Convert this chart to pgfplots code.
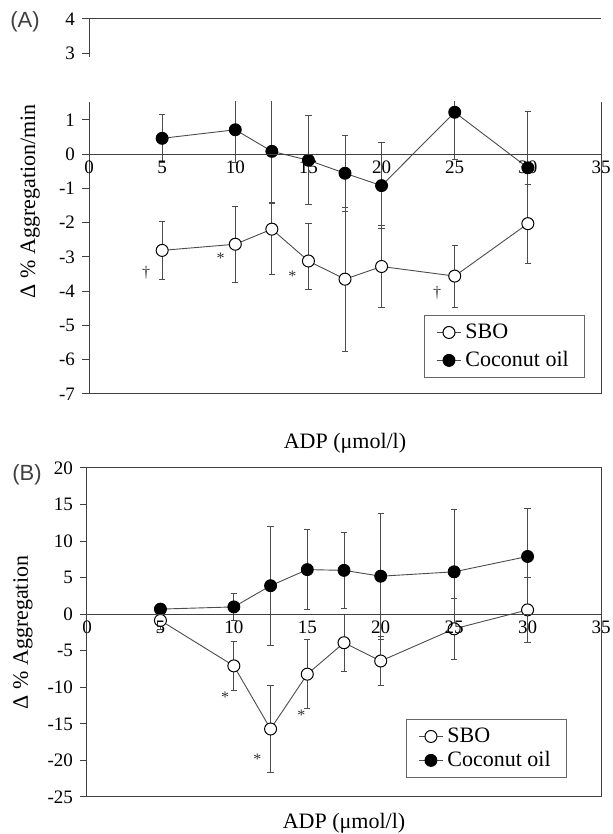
\documentclass[border=0pt]{standalone}
\usepackage{fontspec}
\setmainfont{Liberation Serif}
\newfontfamily\labelfont{Liberation Sans}
\usepackage{pgfplots}
\pgfplotsset{compat=1.18}

\tikzset{note/.style={font=\fontsize{8}{9}\selectfont, black!80}}
\pgfplotsset{
  panel/.style={
    scale only axis, anchor=south west,
    xmin=0, xmax=35,
    tick align=outside, ytick pos=left,
    axis line style={black!75, line width=0.5pt},
    tick style={black!75, line width=0.5pt},
    major tick length=3.5pt,
    ticklabel style={font=\fontsize{9.5}{11}\selectfont},
    /pgf/number format/assume math mode=true,
    label style={font=\fontsize{11}{13}\selectfont},
    legend cell align=left,
    reverse legend,
    legend image code/.code={\draw[mark repeat=2,mark phase=2,#1]
      plot coordinates {(0pt,0pt) (6pt,0pt) (12pt,0pt)};},
    legend style={draw=black!60, line width=0.4pt, anchor=south east,
      inner xsep=6pt, font=\fontsize{11}{13}\selectfont},
  },
  zeroline/.style={
    scale only axis, anchor=south west,
    xmin=0, xmax=35,
    axis x line=middle, axis y line=none,
    axis line style={-, black!75, line width=0.5pt},
    xtick={0,5,...,35}, ytick=\empty,
    major tick length=0pt,
    hide obscured x ticks=false,
    ticklabel style={font=\fontsize{9.5}{11}\selectfont},
    /pgf/number format/assume math mode=true,
  },
  series/.style={line width=0.45pt, black!70,
    error bars/y dir=both, error bars/y explicit,
    error bars/error mark options={rotate=90, mark size=1.6pt, black!70},
    error bars/error bar style={line width=0.4pt, black!70}},
  sbo/.style={series, mark=*, mark size=3pt,
    mark options={solid, fill=white, draw=black, line width=0.5pt}},
  coco/.style={series, mark=*, mark size=3pt,
    mark options={solid, fill=black, draw=black}},
}

\begin{document}
\begin{tikzpicture}
\useasboundingbox (0pt,0pt) rectangle (306pt,417pt);

% panel A, upper stub of the broken axis
\begin{axis}[panel, at={(44.5pt,388.5pt)}, width=256pt, height=19pt,
  ymin=2.89, ymax=4, ytick={3,4}, xtick=\empty,
  axis x line*=top, axis y line*=left]
\end{axis}

% panel A, main part
\begin{axis}[panel, at={(44.5pt,220pt)}, width=256pt, height=146pt,
  ymin=-7, ymax=1.52, ytick={-7,-6,...,1}, xtick=\empty,
  axis x line*=bottom, axis y line*=box,
  xlabel={ADP (μmol/l)},
  xlabel style={at={(axis description cs:0.5,0)}, anchor=center, yshift=-24.5pt},
  ylabel={Δ \% Aggregation/min},
  ylabel style={at={(axis description cs:-0.115,0.66)}, anchor=center},
  legend style={at={(axis description cs:0.969,0.055)}, row sep=1pt}]
\addplot[coco] coordinates {
  (5,0.46) +- (0,0.70)
  (10,0.71) +- (0,0.94)
  (12.5,0.08) +- (0,1.50)
  (15,-0.18) +- (0,1.30)
  (17.5,-0.56) +- (0,1.11)
  (20,-0.92) +- (0,1.26)
  (25,1.22) +- (0,1.38)
  (30,-0.40) +- (0,1.64)
};
\addlegendentry{Coconut oil}
\addplot[sbo] coordinates {
  (5,-2.81) +- (0,0.84)
  (10,-2.63) +- (0,1.10)
  (12.5,-2.19) += (0,0.74) -= (0,1.32)
  (15,-3.12) += (0,1.10) -= (0,0.82)
  (17.5,-3.65) +- (0,2.10)
  (20,-3.28) +- (0,1.20)
  (25,-3.56) +- (0,0.90)
  (30,-2.03) +- (0,1.16)
};
\addlegendentry{SBO}
\node[note] at (axis cs:3.9,-3.46) {†};
\node[note] at (axis cs:9.0,-3.04) {*};
\node[note] at (axis cs:13.9,-3.56) {*};
\node[note] at (axis cs:23.8,-4.04) {†};
\end{axis}
\begin{axis}[zeroline, at={(44.5pt,220pt)}, width=256pt, height=146pt,
  ymin=-7, ymax=1.52]
\end{axis}

% panel B
\begin{axis}[panel, at={(43.5pt,18.5pt)}, width=257pt, height=164.5pt,
  ymin=-25, ymax=20, ytick={-25,-20,...,20}, xtick=\empty,
  xlabel={ADP (μmol/l)},
  xlabel style={at={(axis description cs:0.5,0)}, anchor=center, yshift=-13pt},
  ylabel={Δ \% Aggregation},
  ylabel style={at={(axis description cs:-0.1245,0.5)}, anchor=center},
  legend style={at={(axis description cs:0.934,0.058)}, row sep=-1pt}]
\addplot[coco] coordinates {
  (5,0.7) +- (0,0.50)
  (10,1.0) +- (0,1.85)
  (12.5,3.9) +- (0,8.10)
  (15,6.1) +- (0,5.45)
  (17.5,6.0) +- (0,5.20)
  (20,5.2) +- (0,8.60)
  (25,5.8) +- (0,8.60)
  (30,7.9) +- (0,6.60)
};
\addlegendentry{Coconut oil}
\addplot[sbo] coordinates {
  (5,-0.85) +- (0,1.20)
  (10,-7.07) +- (0,3.40)
  (12.5,-15.7) +- (0,5.95)
  (15,-8.2) +- (0,4.70)
  (17.5,-3.9) +- (0,3.90)
  (20,-6.4) +- (0,3.40)
  (25,-2.0) +- (0,4.20)
  (30,0.59) +- (0,4.40)
};
\addlegendentry{SBO}
\node[note] at (axis cs:9.4,-11.4) {*};
\node[note] at (axis cs:11.6,-19.8) {*};
\node[note] at (axis cs:14.6,-13.8) {*};
\end{axis}
\begin{axis}[zeroline, at={(43.5pt,18.5pt)}, width=257pt, height=164.5pt,
  ymin=-25, ymax=20]
\end{axis}

\node[font=\labelfont\fontsize{11}{13}\selectfont, black!75] at (12.5pt,406pt) {(A)};
\node[font=\labelfont\fontsize{11}{13}\selectfont, black!75] at (13.5pt,179.5pt) {(B)};
\end{tikzpicture}
\end{document}
